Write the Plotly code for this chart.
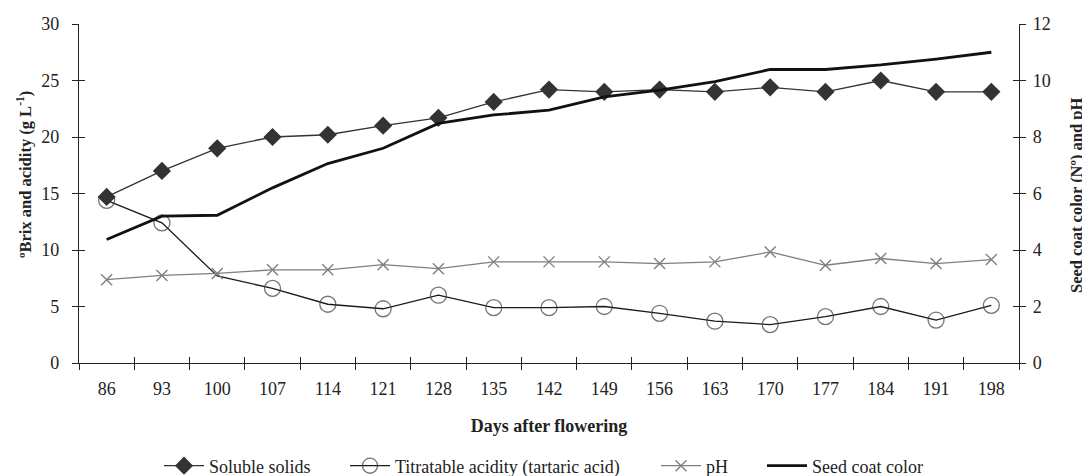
import plotly.graph_objects as go

days = [86, 93, 100, 107, 114, 121, 128, 135, 142, 149, 156, 163, 170, 177, 184, 191, 198]
day_labels = [str(d) for d in days]
soluble_solids = [14.7, 17.0, 19.0, 20.0, 20.2, 21.0, 21.7, 23.1, 24.2, 24.0, 24.2, 24.0, 24.4, 24.0, 25.0, 24.0, 24.0]
titratable_acidity = [14.4, 12.4, 7.7, 6.6, 5.2, 4.8, 6.0, 4.9, 4.9, 5.0, 4.4, 3.7, 3.4, 4.1, 5.0, 3.8, 5.1]
ph = [2.95, 3.1, 3.17, 3.3, 3.3, 3.48, 3.34, 3.58, 3.58, 3.58, 3.52, 3.58, 3.93, 3.46, 3.7, 3.52, 3.66]
seed_coat_color = [4.37, 5.2, 5.23, 6.2, 7.06, 7.6, 8.48, 8.78, 8.95, 9.42, 9.66, 9.96, 10.39, 10.39, 10.55, 10.76, 11.0]

FONT = "Liberation Serif, Times New Roman, serif"
x_range = [days[0] - 3.5, days[-1] + 3.5]

# the page body adds an 8px margin, so the figure is drawn 8px in from the window edge
PAGE = 8
FIG_W, FIG_H = 1090 - PAGE, 476 - PAGE
LEFT, RIGHT, TOP, BOTTOM = 79 - PAGE, 1019 - PAGE, 24 - PAGE, 363 - PAGE
PLOT_W = RIGHT - LEFT
PLOT_H = BOTTOM - TOP


def px_x(screen_px):
    return (screen_px - PAGE - LEFT) / PLOT_W


def px_y(screen_py):
    return (BOTTOM - (screen_py - PAGE)) / PLOT_H


fig = go.Figure()

# acidity marker hidden under the pH marker at day 100 in the original
acid_sizes = [16 if d != 100 else 0 for d in days]

fig.add_trace(go.Scatter(
    x=days, y=titratable_acidity, name="Titratable acidity (tartaric acid)",
    mode="lines+markers", legend="legend2",
    line=dict(color="#1a1a1a", width=1.3),
    marker=dict(symbol="circle-open", size=acid_sizes, color="#3a3a3a", line=dict(width=1.3)),
    xaxis="x", yaxis="y"))

fig.add_trace(go.Scatter(
    x=days, y=ph, name="pH", mode="lines+markers", legend="legend3",
    line=dict(color="#7f7f7f", width=1.3),
    marker=dict(symbol="x-thin-open", size=11, color="#7f7f7f", line=dict(width=1.4, color="#7f7f7f")),
    xaxis="x", yaxis="y2"))

fig.add_trace(go.Scatter(
    x=days, y=seed_coat_color, name="Seed coat color", mode="lines", legend="legend4",
    line=dict(color="#111111", width=2.8),
    xaxis="x", yaxis="y2"))

fig.add_trace(go.Scatter(
    x=days, y=soluble_solids, name="Soluble solids", mode="lines+markers", legend="legend",
    line=dict(color="#333333", width=1.3),
    marker=dict(symbol="diamond", size=14, color="#333333"),
    xaxis="x", yaxis="y"))

# empty helper traces so the tick-only overlay axes get drawn
for xa, ya in [("x2", "y"), ("x3", "y"), ("x", "y3"), ("x", "y4")]:
    fig.add_trace(go.Scatter(x=[None], y=[None], mode="lines", showlegend=False,
                             hoverinfo="skip", xaxis=xa, yaxis=ya))

TICKC = "#222222"
axis_line = dict(showline=True, linecolor=TICKC, linewidth=1.3, showgrid=False, zeroline=False,
                 automargin=False)
hidden = dict(showline=False, showgrid=False, zeroline=False, showticklabels=False,
              automargin=False, ticklen=6, tickwidth=1.3, tickcolor=TICKC)

legend_common = dict(orientation="h", y=px_y(466), yanchor="middle", xanchor="left",
                     font=dict(size=18, family=FONT), itemwidth=40,
                     bgcolor="rgba(0,0,0,0)", borderwidth=0)

fig.update_layout(
    width=FIG_W, height=FIG_H,
    margin=dict(l=LEFT, r=FIG_W - RIGHT, t=TOP, b=FIG_H - BOTTOM, autoexpand=False),
    paper_bgcolor="white", plot_bgcolor="white",
    font=dict(family=FONT, size=18, color="#222222"),
    xaxis=dict(
        range=x_range, tickmode="array", tickvals=days, ticktext=day_labels,
        ticks="", ticklabelstandoff=9, **axis_line,
        title=dict(text="<b>Days after flowering</b>", font=dict(size=18), standoff=21),
    ),
    xaxis2=dict(overlaying="x", anchor="y", range=x_range, tickmode="linear",
                tick0=days[0] - 3.5, dtick=7, ticks="outside", **hidden),
    xaxis3=dict(overlaying="x", anchor="y", range=x_range, tickmode="linear",
                tick0=days[0] - 3.5, dtick=7, ticks="inside", **hidden),
    yaxis=dict(
        range=[0, 30], dtick=5, ticks="outside", ticklen=6, tickwidth=1.3, tickcolor=TICKC,
        ticklabelstandoff=9, **axis_line,
    ),
    yaxis2=dict(
        range=[0, 12], dtick=2, overlaying="y", side="right", anchor="x",
        ticks="outside", ticklen=6, tickwidth=1.3, tickcolor=TICKC, ticklabelstandoff=3,
        **axis_line,
    ),
    yaxis3=dict(range=[0, 30], dtick=5, overlaying="y", side="left", anchor="x",
                ticks="inside", **hidden),
    yaxis4=dict(range=[0, 12], dtick=2, overlaying="y", side="right", anchor="x",
                ticks="inside", **hidden),
    legend=dict(x=px_x(159), **legend_common),
    legend2=dict(x=px_x(345), **legend_common),
    legend3=dict(x=px_x(656), **legend_common),
    legend4=dict(x=px_x(762), **legend_common),
    annotations=[
        dict(text="<b>ºBrix and acidity (g L<sup>-1</sup>)</b>", textangle=-90,
             xref="paper", yref="paper", x=px_x(25), y=px_y(175),
             xanchor="center", yanchor="middle", showarrow=False,
             font=dict(size=16.5, family=FONT, color="#222222")),
        dict(text="<b>Seed coat color (Nº) and pH</b>", textangle=-90,
             xref="paper", yref="paper", x=px_x(1076), y=px_y(195),
             xanchor="center", yanchor="middle", showarrow=False,
             font=dict(size=16.5, family=FONT, color="#222222")),
    ],
    showlegend=True,
)

fig.write_html("out.html")
